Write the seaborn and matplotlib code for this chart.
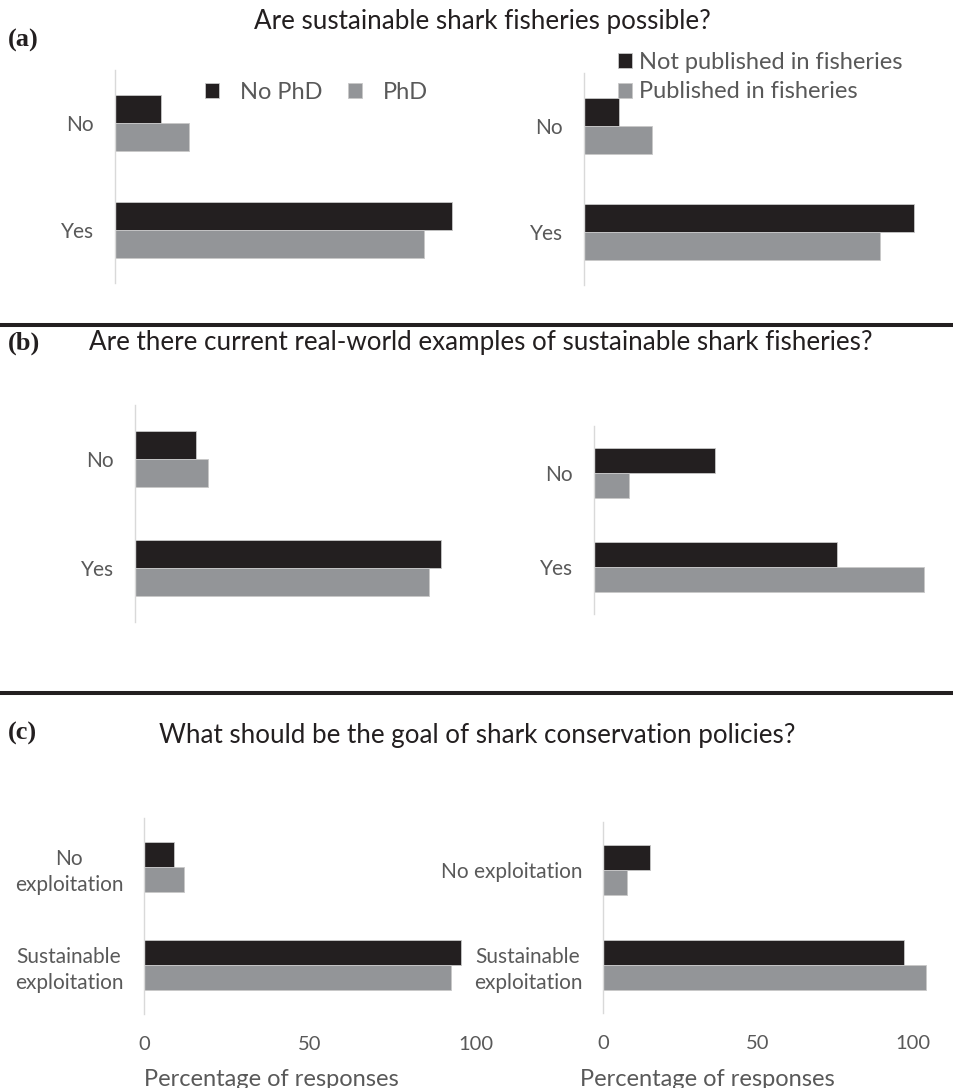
import matplotlib
matplotlib.use("Agg")
import matplotlib.pyplot as plt
import seaborn as sns
import pandas as pd
from matplotlib.lines import Line2D

sns.set_theme(style="white")
plt.rcParams['font.family'] = ['Lato', 'DejaVu Sans']

W, H, DPI = 954, 1088, 100

BLACK = "#231f20"
GREY = "#939598"
TEXT_GREY = "#595959"
AXIS_GREY = "#d9d9d9"

# ---------------- data ----------------
yes_no = ["No", "Yes"]
goal_left = ["No\nexploitation", "Sustainable\nexploitation"]
goal_right = ["No exploitation", "Sustainable\nexploitation"]
phd_groups = ["No PhD", "PhD"]
pub_groups = ["Not published in fisheries", "Published in fisheries"]

a_no_phd = [12.0, 88.0]
a_phd = [19.3, 80.7]
a_not_pub = [9.5, 90.5]
a_pub = [18.7, 81.3]

b_no_phd = [16.6, 83.4]
b_phd = [19.9, 80.1]
b_not_pub = [33.3, 66.7]
b_pub = [9.6, 90.4]

c_no_phd = [9.0, 95.5]
c_phd = [12.0, 92.5]
c_not_pub = [15.2, 97.1]
c_pub = [7.7, 104.2]

x_ticks = [0, 50, 100]

titles = ["Are sustainable shark fisheries possible?",
          "Are there current real-world examples of sustainable shark fisheries?",
          "What should be the goal of shark conservation policies?"]
panel_letters = ["(a)", "(b)", "(c)"]
x_label = "Percentage of responses"


def make_df(cats, groups, s1, s2):
    rows = []
    for g, vals in zip(groups, [s1, s2]):
        for c, v in zip(cats, vals):
            rows.append({"category": c, "group": g, "value": v})
    return pd.DataFrame(rows)


fig = plt.figure(figsize=(W / DPI, H / DPI), dpi=DPI)


def px_axes(origin, top, bottom, scale, xmax):
    right = origin + scale * xmax
    return fig.add_axes([origin / W, 1 - bottom / H, (right - origin) / W, (bottom - top) / H])


def to_ax(ax, x, y):
    return ax.transAxes.inverted().transform((x, H - y))


# layout: origin px, top px, bottom px, px per unit, xmax, bar width
panels = [
    dict(cats=yes_no, groups=phd_groups, s=(a_no_phd, a_phd), lay=(115, 70, 283, 3.83, 100, 0.526), ticks=False),
    dict(cats=yes_no, groups=pub_groups, s=(a_not_pub, a_pub), lay=(584, 73, 285, 3.645, 100, 0.528), ticks=False),
    dict(cats=yes_no, groups=phd_groups, s=(b_no_phd, b_phd), lay=(135, 405, 622, 3.667, 100, 0.516), ticks=False),
    dict(cats=yes_no, groups=pub_groups, s=(b_not_pub, b_pub), lay=(594, 426, 614, 3.645, 95, 0.53), ticks=False),
    dict(cats=goal_left, groups=phd_groups, s=(c_no_phd, c_phd), lay=(144, 818, 1014, 3.32, 110, 0.51), ticks=True),
    dict(cats=goal_right, groups=pub_groups, s=(c_not_pub, c_pub), lay=(603, 822, 1013, 3.10, 110, 0.524), ticks=True),
]

axes = []
for i, p in enumerate(panels):
    origin, top, bottom, scale, xmax, bw = p["lay"]
    ax = px_axes(origin, top, bottom, scale, xmax)
    df = make_df(p["cats"], p["groups"], *p["s"])
    sns.barplot(data=df, x="value", y="category", hue="group",
                order=p["cats"], hue_order=p["groups"],
                palette=[BLACK, GREY], saturation=1, width=bw,
                orient="h", errorbar=None, ax=ax, legend=(i < 2),
                linewidth=0.6, edgecolor="#c8c8c8")
    ax.set_xlim(0, xmax)
    ax.set_ylim(len(p["cats"]) - 0.5, -0.5)
    for sp in ["top", "right", "bottom"]:
        ax.spines[sp].set_visible(False)
    ax.spines["left"].set_color(AXIS_GREY)
    ax.spines["left"].set_linewidth(1.0)
    ax.set_ylabel("")
    ax.tick_params(axis="y", length=0, pad=15, labelsize=15, labelcolor=TEXT_GREY)
    for lab in ax.get_yticklabels():
        lab.set_multialignment("center")
        lab.set_linespacing(1.35)
    if p["ticks"]:
        ax.set_xticks(x_ticks)
        ax.tick_params(axis="x", length=0, pad=15.5, labelsize=14.5, labelcolor=TEXT_GREY)
        ax.set_xlabel(x_label, fontsize=17, color=TEXT_GREY)
    else:
        ax.set_xticks([])
        ax.set_xlabel("")
    axes.append(ax)

# x label positions (top of label text box)
for ax, xc in [(axes[4], 271), (axes[5], 707)]:
    fx, fy = to_ax(ax, xc, 1069)
    ax.xaxis.set_label_coords(fx, fy)

# legends
h, l = axes[0].get_legend_handles_labels()
axes[0].get_legend().remove()
lx, ly = to_ax(axes[0], 205, 82)
axes[0].legend(h, l, loc="upper left", bbox_to_anchor=(lx, ly), ncol=2, frameon=False,
               fontsize=17, labelcolor=TEXT_GREY, handlelength=0.6, handleheight=0.6,
               handletextpad=0.9, columnspacing=1.05, borderpad=0, borderaxespad=0)

h, l = axes[1].get_legend_handles_labels()
axes[1].get_legend().remove()
lx, ly = to_ax(axes[1], 618, 52)
axes[1].legend(h, l, loc="upper left", bbox_to_anchor=(lx, ly), ncol=1, frameon=False,
               fontsize=17, labelcolor=TEXT_GREY, handlelength=0.6, handleheight=0.6,
               handletextpad=0.3, labelspacing=0.36, borderpad=0, borderaxespad=0)

# titles and panel letters
for t, (xc, yc) in zip(titles, [(482, 22), (481, 343), (477, 735)]):
    fig.text(xc / W, 1 - yc / H, t, ha="center", va="center", fontsize=18.7, color=BLACK)
for t, yc in zip(panel_letters, [40, 343, 733]):
    fig.text(8 / W, 1 - yc / H, t, ha="left", va="center", fontsize=19,
             fontweight="bold", family="Liberation Serif", color=BLACK)

# separator lines
for yc in [325, 693]:
    fig.add_artist(Line2D([0, 1], [1 - yc / H, 1 - yc / H], transform=fig.transFigure,
                          color=BLACK, linewidth=2.9))

fig.savefig("out.png", dpi=DPI)
